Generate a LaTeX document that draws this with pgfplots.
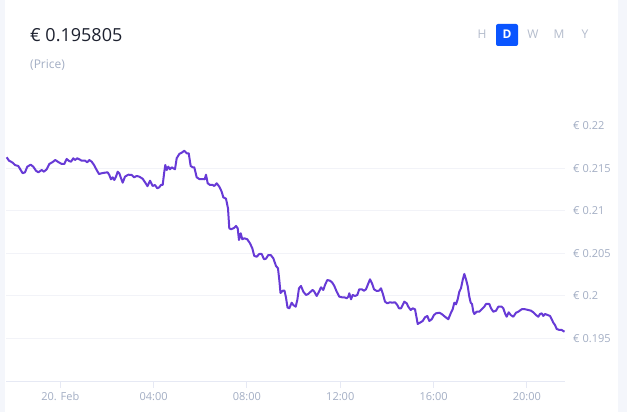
\documentclass[border=0pt]{standalone}
\usepackage{fontspec}
\setmainfont{Open Sans}
\usepackage{pgfplots}
\pgfplotsset{compat=1.18}
\definecolor{linec}{HTML}{673AD6}
\definecolor{gridc}{HTML}{F2F3F8}
\definecolor{axisc}{HTML}{E6E9F4}
\definecolor{labc}{HTML}{A3AEC4}
\definecolor{stripc}{HTML}{F4F6FB}
\definecolor{btnc}{HTML}{B4BCCC}
\definecolor{blueb}{HTML}{0A55FF}
\definecolor{headc}{HTML}{1E2230}
\begin{document}
\begin{tikzpicture}
\path[use as bounding box, fill=white] (0pt,0pt) rectangle (627pt,412pt);
\fill[stripc] (0pt,0pt) rectangle (5pt,412pt);
\fill[stripc] (618pt,0pt) rectangle (627pt,412pt);
\node[anchor=base west, inner sep=0pt, text=headc] at (30pt,370pt) {\fontsize{18}{20}\selectfont € 0.195805};
\node[anchor=base west, inner sep=0pt, text=labc] at (30pt,343pt) {\fontsize{12}{14}\selectfont (Price)};
\fill[blueb, rounded corners=2pt] (496pt,366pt) rectangle (518pt,388pt);
\node[text=btnc, inner sep=0pt] at (482pt,377.5pt) {\fontsize{12}{14}\selectfont H};
\node[text=white, inner sep=0pt] at (507pt,377.5pt) {\fontsize{12}{14}\selectfont\bfseries D};
\node[text=btnc, inner sep=0pt] at (533pt,377.5pt) {\fontsize{12}{14}\selectfont W};
\node[text=btnc, inner sep=0pt] at (559pt,377.5pt) {\fontsize{12}{14}\selectfont M};
\node[text=btnc, inner sep=0pt] at (585pt,377.5pt) {\fontsize{12}{14}\selectfont Y};
\begin{axis}[
  at={(6pt,30pt)}, anchor=south west, scale only axis,
  width=559pt, height=277pt,
  xmin=-2.327, xmax=21.633, ymin=0.18988, ymax=0.22247,
  axis line style={draw=none},
  xtick={0,4,8,12,16,20},
  xticklabels={20. Feb,04:00,08:00,12:00,16:00,20:00},
  xtick pos=bottom,
  xtick align=outside,
  x tick style={draw=axisc, line width=1pt},
  major tick length=6pt,
  ytick={0.195,0.2,0.205,0.21,0.215},
  yticklabels={€ 0.195,€ 0.2,€ 0.205,€ 0.21,€ 0.215},
  extra y ticks={0.22},
  extra y tick labels={€ 0.22},
  extra y tick style={grid=none},
  y tick style={draw=none},
  yticklabel pos=right,
  ymajorgrids,
  major grid style={draw=gridc, line width=1pt},
  yticklabel style={anchor=west, inner sep=0pt, xshift=8pt, text=labc, font=\fontsize{11}{13}\selectfont},
  xticklabel style={anchor=north, inner sep=0pt, yshift=-4pt, text=labc, font=\fontsize{11}{13}\selectfont},
  clip=false,
]
\draw[axisc, line width=1pt] (rel axis cs:0,0) -- (rel axis cs:1,0);
\addplot[linec, line width=2pt, line join=round, mark=none] coordinates {
(-2.297,0.21632) (-2.199,0.21592) (-2.113,0.21580) (-2.040,0.21568) (-1.942,0.21541)
(-1.800,0.21529) (-1.697,0.21482) (-1.612,0.21444) (-1.513,0.21455) (-1.414,0.21521)
(-1.269,0.21545) (-1.157,0.21521) (-1.042,0.21474) (-0.943,0.21455) (-0.797,0.21482)
(-0.699,0.21462) (-0.583,0.21491) (-0.471,0.21553) (-0.326,0.21576) (-0.214,0.21600)
(-0.086,0.21576) (0.060,0.21553) (0.171,0.21553) (0.274,0.21612) (0.373,0.21588)
(0.459,0.21580) (0.557,0.21620) (0.630,0.21600) (0.729,0.21620) (0.814,0.21608)
(0.917,0.21592) (1.059,0.21592) (1.157,0.21573) (1.243,0.21600) (1.346,0.21580)
(1.445,0.21541) (1.560,0.21482) (1.659,0.21435) (1.775,0.21444) (1.916,0.21451)
(2.032,0.21455) (2.100,0.21424) (2.173,0.21373) (2.246,0.21396) (2.315,0.21365)
(2.387,0.21404) (2.460,0.21462) (2.529,0.21444) (2.589,0.21396) (2.675,0.21333)
(2.773,0.21404) (2.915,0.21427) (3.060,0.21424) (3.159,0.21396) (3.275,0.21412)
(3.386,0.21404) (3.532,0.21379) (3.643,0.21333) (3.738,0.21292) (3.845,0.21356)
(3.961,0.21294) (4.059,0.21306) (4.158,0.21267) (4.243,0.21279) (4.316,0.21306)
(4.389,0.21306) (4.458,0.21462) (4.501,0.21541) (4.561,0.21482) (4.629,0.21521)
(4.702,0.21491) (4.775,0.21514) (4.844,0.21502) (4.916,0.21491) (4.989,0.21620)
(5.101,0.21671) (5.204,0.21686) (5.315,0.21709) (5.418,0.21679) (5.504,0.21679)
(5.589,0.21529) (5.675,0.21514) (5.744,0.21514) (5.847,0.21396) (5.958,0.21376)
(6.104,0.21376) (6.190,0.21373) (6.245,0.21427) (6.318,0.21326) (6.417,0.21306)
(6.532,0.21306) (6.601,0.21294) (6.704,0.21326) (6.815,0.21286) (6.918,0.21227)
(6.987,0.21161) (7.102,0.21145) (7.188,0.21032) (7.244,0.20796) (7.317,0.20785)
(7.446,0.20800) (7.531,0.20824) (7.604,0.20796) (7.660,0.20659) (7.733,0.20738)
(7.801,0.20667) (7.887,0.20679) (8.015,0.20667) (8.131,0.20620) (8.230,0.20561)
(8.315,0.20471) (8.418,0.20462) (8.530,0.20494) (8.633,0.20494) (8.731,0.20432)
(8.817,0.20439) (8.916,0.20482) (9.018,0.20482) (9.130,0.20444) (9.246,0.20353)
(9.331,0.20326) (9.387,0.20188) (9.439,0.20035) (9.533,0.20062) (9.610,0.20062)
(9.674,0.19982) (9.739,0.19865) (9.816,0.19855) (9.918,0.19921) (9.987,0.19894)
(10.090,0.19874) (10.159,0.19953) (10.231,0.20091) (10.317,0.20118) (10.416,0.20051)
(10.532,0.20012) (10.630,0.20024) (10.733,0.20051) (10.819,0.20071) (10.887,0.20051)
(10.990,0.20000) (11.089,0.20051) (11.175,0.20102) (11.273,0.20071) (11.346,0.20129)
(11.444,0.20188) (11.560,0.20180) (11.659,0.20157) (11.745,0.20118) (11.847,0.20051)
(11.959,0.19992) (12.062,0.19985) (12.173,0.19985) (12.276,0.19973) (12.345,0.19992)
(12.388,0.20032) (12.461,0.19961) (12.533,0.20012) (12.632,0.20000) (12.730,0.20012)
(12.816,0.20079) (12.919,0.20079) (13.018,0.20062) (13.103,0.20079) (13.176,0.20129)
(13.275,0.20196) (13.360,0.20149) (13.446,0.20079) (13.562,0.20059) (13.661,0.20062)
(13.746,0.20091) (13.819,0.20032) (13.918,0.19933) (14.016,0.19914) (14.132,0.19926)
(14.231,0.19921) (14.347,0.19926) (14.445,0.19894) (14.518,0.19855) (14.604,0.19855)
(14.677,0.19894) (14.745,0.19933) (14.848,0.19914) (14.916,0.19874) (15.019,0.19835)
(15.105,0.19855) (15.204,0.19844) (15.276,0.19738) (15.319,0.19671) (15.418,0.19686)
(15.534,0.19706) (15.632,0.19749) (15.731,0.19765) (15.817,0.19706) (15.920,0.19726)
(16.018,0.19776) (16.104,0.19796) (16.245,0.19803) (16.348,0.19788) (16.490,0.19756)
(16.631,0.19726) (16.734,0.19796) (16.820,0.19844) (16.888,0.19921) (16.961,0.19902)
(17.034,0.19961) (17.103,0.20051) (17.175,0.20091) (17.248,0.20188) (17.317,0.20259)
(17.390,0.20196) (17.462,0.20118) (17.531,0.19992) (17.591,0.19921) (17.647,0.19906)
(17.703,0.19815) (17.746,0.19788) (17.848,0.19815) (17.960,0.19815) (18.063,0.19844)
(18.174,0.19874) (18.247,0.19906) (18.389,0.19906) (18.461,0.19855) (18.560,0.19815)
(18.676,0.19827) (18.774,0.19874) (18.920,0.19874) (18.989,0.19855) (19.061,0.19796)
(19.134,0.19756) (19.220,0.19808) (19.306,0.19776) (19.417,0.19756) (19.533,0.19803)
(19.632,0.19815) (19.777,0.19844) (19.919,0.19844) (20.060,0.19835) (20.176,0.19827)
(20.274,0.19808) (20.390,0.19776) (20.489,0.19756) (20.562,0.19788) (20.634,0.19796)
(20.703,0.19765) (20.776,0.19788) (20.891,0.19776) (20.990,0.19765) (21.063,0.19726)
(21.132,0.19686) (21.204,0.19659) (21.277,0.19612) (21.389,0.19600) (21.492,0.19600)
(21.560,0.19588) (21.612,0.19580)
};
\end{axis}
\end{tikzpicture}
\end{document}
